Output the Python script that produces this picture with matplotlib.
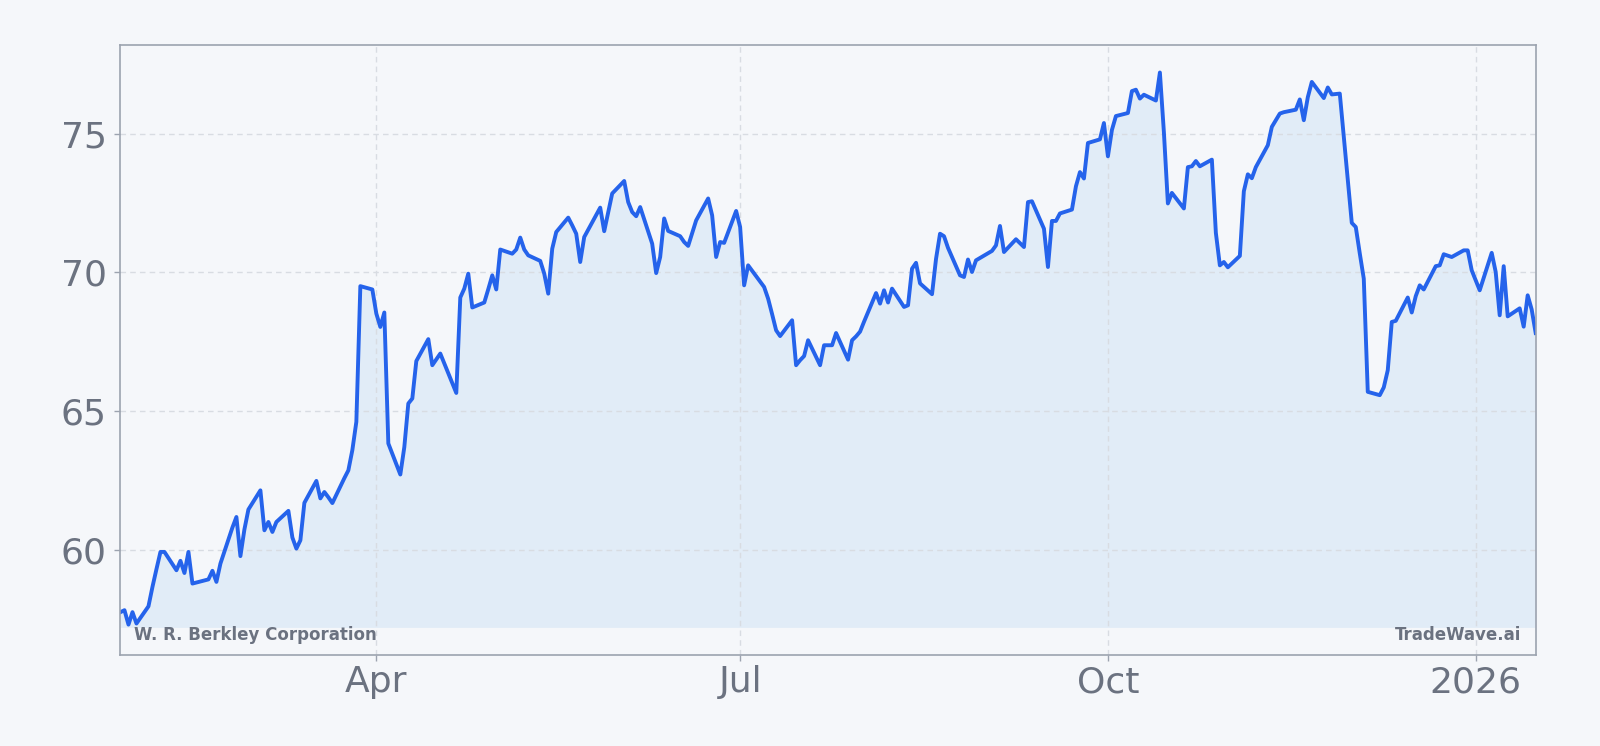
import numpy as np
import pandas as pd
import matplotlib
matplotlib.use("Agg")
import matplotlib.pyplot as plt
import matplotlib.dates as mdates
from matplotlib.ticker import FuncFormatter

# trading calendar of the chart window
start_day = "2025-01-27"
end_day = "2026-01-16"
market_holidays = ["2025-02-17", "2025-04-18", "2025-05-26", "2025-06-19",
                   "2025-07-04", "2025-09-01", "2025-11-27", "2025-12-25",
                   "2026-01-01"]

# daily closes, one list per month
jan25 = [57.75, 57.82, 57.30, 57.75, 57.34]
feb25 = [57.96, 58.66, 59.30, 59.92, 59.92, 59.26, 59.60, 59.16, 59.92, 58.78,
         58.93, 59.24, 58.84, 59.50, 60.80, 61.18, 59.77, 60.73, 61.45]
mar25 = [62.14, 60.70, 61.00, 60.64, 61.00, 61.40, 60.44, 60.04, 60.34, 61.69,
         62.48, 61.85, 62.08, 61.89, 61.68, 62.58, 62.86, 63.59, 64.61, 69.50,
         69.38]
apr25 = [68.51, 68.03, 68.55, 63.83, 62.71, 63.70, 65.27, 65.45, 66.80, 67.59,
         66.65, 66.86, 67.07, 65.65, 69.09, 69.41, 69.95, 68.73, 68.91, 69.39,
         69.89]
may25 = [69.38, 70.82, 70.67, 70.82, 71.25, 70.82, 70.61, 70.41, 69.95, 69.23,
         70.85, 71.45, 71.97, 71.69, 71.39, 70.37, 71.27, 72.33, 71.48, 72.16,
         72.84]
jun25 = [73.29, 72.53, 72.17, 72.02, 72.35, 71.03, 69.97, 70.55, 71.94, 71.49,
         71.30, 71.09, 70.95, 71.87, 72.66, 72.05, 70.55, 71.09, 71.06, 72.21]
jul25 = [71.63, 69.53, 70.25, 69.47, 69.05, 68.49, 67.91, 67.70, 68.27, 66.65,
         66.83, 66.98, 67.55, 66.65, 67.37, 67.37, 67.37, 67.81, 66.85, 67.55,
         67.69, 67.86]
aug25 = [68.22, 69.25, 68.87, 69.35, 68.91, 69.41, 68.75, 68.81, 70.13, 70.34,
         69.60, 69.21, 70.48, 71.39, 71.30, 70.88, 69.89, 69.83, 70.46, 70.01,
         70.43]
sep25 = [70.77, 70.97, 71.67, 70.73, 71.19, 71.05, 70.91, 72.53, 72.56, 71.57,
         70.19, 71.85, 71.85, 72.12, 72.26, 73.10, 73.61, 73.38, 74.66, 74.79,
         75.38]
oct25 = [74.18, 75.13, 75.63, 75.74, 76.53, 76.58, 76.26, 76.40, 76.19, 77.20,
         75.05, 72.48, 72.86, 72.30, 73.79, 73.82, 74.01, 73.82, 74.06, 71.42,
         70.25, 70.37, 70.18]
nov25 = [70.59, 72.92, 73.53, 73.39, 73.79, 74.58, 75.24, 75.48, 75.72, 75.77,
         75.86, 76.23, 75.48, 76.31, 76.86, 76.28, 76.66, 76.41, 76.44]
dec25 = [71.78, 71.63, 70.68, 69.77, 65.69, 65.57, 65.85, 66.47, 68.21, 68.25,
         69.09, 68.55, 69.14, 69.53, 69.38, 70.22, 70.25, 70.65, 70.55, 70.79,
         70.79, 70.07]
jan26 = [69.35, 70.70, 70.01, 68.45, 70.22, 68.41, 68.70, 68.04, 69.17, 68.66,
         67.81]

company = "W. R. Berkley Corporation"
source = "TradeWave.ai"

prices = np.array(jan25 + feb25 + mar25 + apr25 + may25 + jun25 + jul25 +
                  aug25 + sep25 + oct25 + nov25 + dec25 + jan26)
dates = pd.bdate_range(start_day, end_day, freq="C", holidays=market_holidays)
assert len(dates) == len(prices), (len(dates), len(prices))

bg = "#F5F7FA"
blue = "#2563EB"
grey_txt = "#6B7280"

fig = plt.figure(figsize=(16, 7.46), dpi=100, facecolor=bg)
ax = fig.add_axes([0.0753, 0.122, 0.8845, 0.8178])
ax.set_facecolor(bg)

ax.fill_between(dates, prices, prices.min() - 0.1, color="#E1ECF7", linewidth=0)
ax.plot(dates, prices, color=blue, linewidth=2.8, solid_joinstyle="round")

rng = prices.max() - prices.min()
ax.set_ylim(prices.min() - 0.055 * rng, prices.max() + 0.05 * rng)
ax.set_xlim(dates[0], dates[-1])
ax.set_yticks([60, 65, 70, 75])

ax.xaxis.set_major_locator(mdates.MonthLocator(bymonth=[1, 4, 7, 10]))
ax.xaxis.set_major_formatter(FuncFormatter(
    lambda v, pos: mdates.num2date(v).strftime("%Y" if mdates.num2date(v).month == 1 else "%b")))

ax.grid(True, color="#D8DCE2", linestyle=(0, (4, 3)), linewidth=1.0)
for s in ax.spines.values():
    s.set_color("#9CA3AF")
    s.set_linewidth(1.2)
ax.tick_params(axis="both", colors="#9CA3AF", labelcolor=grey_txt,
               labelsize=26, length=4, width=1)
ax.tick_params(axis="x", pad=3.5)
ax.tick_params(axis="y", pad=6)

ax.text(0.0095, 0.018, company, transform=ax.transAxes, ha="left", va="bottom",
        fontsize=12, fontweight="bold", color=grey_txt)
ax.text(0.99, 0.018, source, transform=ax.transAxes, ha="right", va="bottom",
        fontsize=12, fontweight="bold", color=grey_txt)

fig.savefig("out.png", dpi=100, facecolor=bg)
